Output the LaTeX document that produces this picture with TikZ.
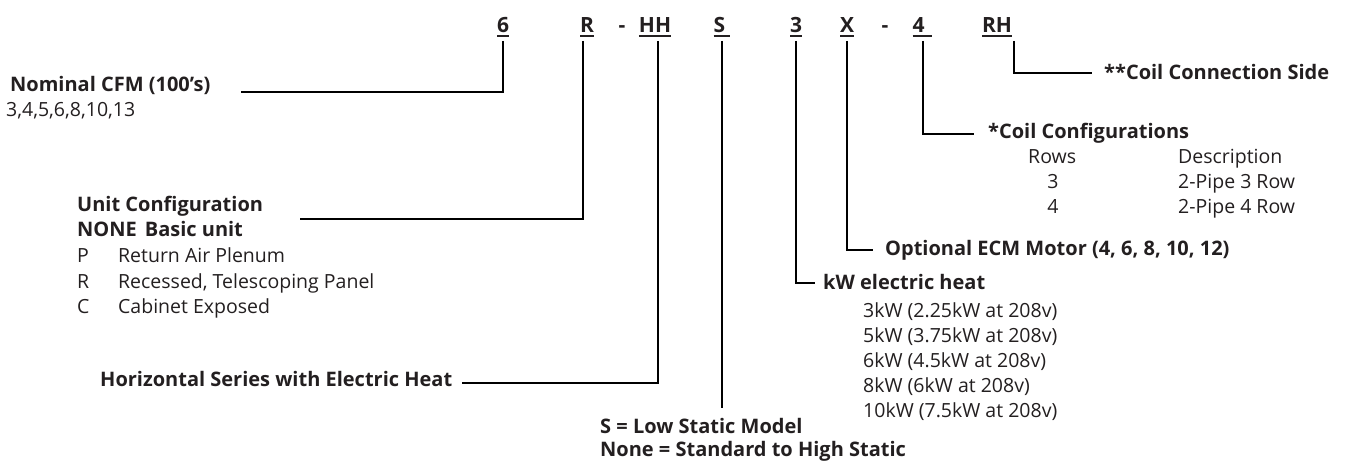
\documentclass[tikz,border=0pt]{standalone}
\usepackage{fontspec}
\setmainfont{Open Sans}
\usetikzlibrary{positioning}
\definecolor{inkgray}{RGB}{35,31,32}
% underlined code letter with a heavier rule
\newcommand{\codeul}[1]{\setbox0\hbox{#1}\rlap{\rule[-4pt]{\wd0}{2.2pt}}\box0}
\tikzset{
    code/.style={font=\fontsize{21}{24}\selectfont\bfseries, text=inkgray, inner sep=0pt, anchor=base},
    head/.style={font=\fontsize{20}{25}\selectfont\bfseries, text=inkgray, inner sep=0pt, anchor=base west},
    body/.style={font=\fontsize{19.5}{25}\selectfont, text=inkgray, inner sep=0pt, anchor=base west},
    lead/.style={line width=2.4pt, black}
}

\begin{document}
\begin{tikzpicture}[x=1pt, y=-1pt]
        \useasboundingbox (0,0) rectangle (1346,462);
        % model code
        \node [code] (c6) at (503,33) {\codeul{6}};
        \node [code] (cR) at (587,33) {\codeul{R}};
        \node [code] (d1) at (622,33) {-};
        \node [code] (cHH) at (655,33) {\codeul{HH}};
        \node [code] (cS) at (722,33) {\codeul{S\hspace{5pt}}};
        \node [code] (c3) at (796,33) {\codeul{3}};
        \node [code] (cX) at (847,33) {\codeul{X}};
        \node [code] (d2) at (885,33) {-};
        \node [code] (c4) at (922,33) {\codeul{4\hspace{7pt}}};
        \node [code] (cRH) at (997,33) {\codeul{RH}};
        % left descriptions
        \node [head] (nom) at (10,92) {Nominal CFM (100’s)};
        \node [body] (nomval) at (6,117) {3,4,5,6,8,10,13};
        \node [head] (unit) at (77,212) {Unit Configuration};
        \node [head] (none) at (77,237) {NONE\hspace{8pt}Basic unit};
        \node [body] (unitp) at (77,262) {\makebox[41pt][l]{P}Return Air Plenum};
        \node [body] (unitr) at (77,288) {\makebox[41pt][l]{R}Recessed, Telescoping Panel};
        \node [body] (unitc) at (77,313) {\makebox[41pt][l]{C}Cabinet Exposed};
        \node [head] (horiz) at (100,386) {Horizontal Series with Electric Heat};
        \node [head] (lowS) at (600,433) {S = Low Static Model};
        \node [head] (noneS) at (600,456) {None = Standard to High Static};
        % right descriptions
        \node [head] (side) at (1104,80) {**Coil Connection Side};
        \node [head] (coil) at (988,139) {*Coil Configurations};
        \node [body] (rows) at (1028,164) {Rows};
        \node [body] (descr) at (1178,164) {Description};
        \node [body, anchor=base] (row3) at (1053,189) {3};
        \node [body] (pipe3) at (1178,189) {2-Pipe 3 Row};
        \node [body, anchor=base] (row4) at (1053,214) {4};
        \node [body] (pipe4) at (1178,214) {2-Pipe 4 Row};
        \node [head] (ecm) at (885,256) {Optional ECM Motor (4, 6, 8, 10, 12)};
        \node [head] (kw) at (823,290) {kW electric heat};
        \foreach \kwtxt [count=\k from 0] in {3kW (2.25kW at 208v), 5kW (3.75kW at 208v),
            6kW (4.5kW at 208v), 8kW (6kW at 208v), 10kW (7.5kW at 208v)}
            \node [body] (kw\k) at (863,{317+25.2*\k}) {\kwtxt};
        % leaders
        \draw [lead] ([yshift=-8pt]c6.base) |- ([xshift=30pt]nom.base east);
        \draw [lead] ([xshift=-4pt, yshift=-8pt]cR.base) |- ([xshift=37pt, yshift=-7pt]unit.base east);
        \draw [lead] ([xshift=3pt, yshift=-8pt]cHH.base) |- ([xshift=10pt, yshift=3pt]horiz.base east);
        \draw [lead] ([yshift=-8pt]cS.base) -- ([yshift=10pt]cS.base |- lowS.north);
        \draw [lead] ([yshift=-8pt]c3.base) |- ([xshift=-8pt, yshift=7pt]kw.base west);
        \draw [lead] ([yshift=-8pt]cX.base) |- ([xshift=-12pt, yshift=6pt]ecm.base west);
        \draw [lead] ([xshift=1pt, yshift=-8pt]c4.base) |- ([xshift=-14pt, yshift=5pt]coil.base west);
        \draw [lead] ([xshift=2pt, yshift=-8pt]cRH.base east) |- ([xshift=-12pt, yshift=7pt]side.base west);
    \end{tikzpicture}
\end{document}
